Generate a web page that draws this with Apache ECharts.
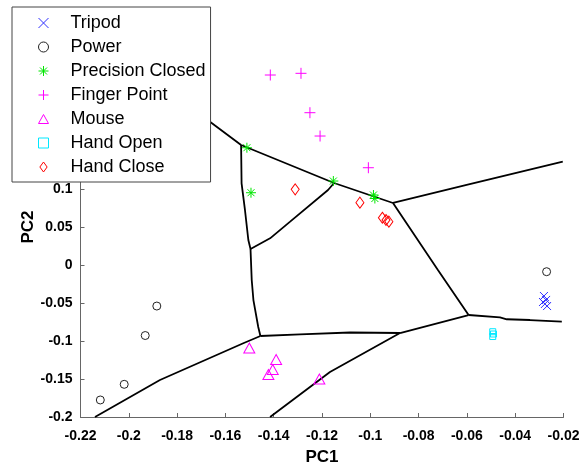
<!DOCTYPE html>
<html>
<head>
<meta charset="utf-8">
<script src="https://cdn.jsdelivr.net/npm/echarts@6/dist/echarts.min.js"></script>
<style>html,body{margin:0;padding:0;background:#fff;overflow:hidden}#c{width:579px;height:466px}</style>
</head>
<body>
<div id="c"></div>
<script>
// ---- data ----
var categories = ['Tripod','Power','Precision Closed','Finger Point','Mouse','Hand Open','Hand Close'];
var tripod = [[-0.0281,-0.0408],[-0.0272,-0.0460],[-0.0277,-0.0513],[-0.0268,-0.0540],[-0.0285,-0.0487]];
var power = [[-0.0270,-0.0088],[-0.1884,-0.0540],[-0.1932,-0.0928],[-0.2019,-0.1570],[-0.2118,-0.1776]];
var precisionClosed = [[-0.1511,0.1543],[-0.1494,0.0951],[-0.1153,0.1105],[-0.0987,0.0921],[-0.0981,0.0875]];
var fingerPoint = [[-0.1414,0.2500],[-0.1287,0.2522],[-0.1250,0.2004],[-0.1208,0.1697],[-0.1008,0.1280]];
var mouse = [[-0.1501,-0.1092],[-0.1390,-0.1243],[-0.1404,-0.1375],[-0.1422,-0.1441],[-0.1211,-0.1500]];
var handOpen = [[-0.0493,-0.0878],[-0.0493,-0.0941],[-0.0490,-0.0908]];
var handClose = [[-0.1311,0.0996],[-0.1043,0.0820],[-0.0950,0.0622],[-0.0923,0.0570],[-0.0935,0.0592]];
// boundary edges (data coordinates)
var edges = [
  [[-0.1705,0.1979],[-0.1664,0.1886],[-0.1535,0.1579]],
  [[-0.1535,0.1579],[-0.1150,0.1079],[-0.0906,0.0816]],
  [[-0.0906,0.0816],[-0.0601,0.1053],[-0.0203,0.1359]],
  [[-0.0906,0.0816],[-0.0720,-0.0066],[-0.0593,-0.0658]],
  [[-0.0593,-0.0658],[-0.0463,-0.0688],[-0.0435,-0.0714],[-0.0339,-0.0724],[-0.0207,-0.0746]],
  [[-0.1150,0.1079],[-0.1175,0.0987],[-0.1332,0.0570],[-0.1415,0.0351],[-0.1496,0.0211]],
  [[-0.1535,0.1579],[-0.1533,0.1075],[-0.1519,0.0724],[-0.1505,0.0329],[-0.1496,0.0211]],
  [[-0.1496,0.0211],[-0.1491,-0.0197],[-0.1484,-0.0461],[-0.1464,-0.0816],[-0.1455,-0.0934]],
  [[-0.1455,-0.0934],[-0.1291,-0.0912],[-0.1084,-0.0888],[-0.0877,-0.0895]],
  [[-0.0877,-0.0895],[-0.0593,-0.0658]],
  [[-0.0877,-0.0895],[-0.1167,-0.1408],[-0.1415,-0.2000]],
  [[-0.1455,-0.0934],[-0.1526,-0.1030],[-0.1871,-0.1513],[-0.2140,-0.2000]]
];
var xTicks = {min:-0.22, max:-0.02, interval:0.02};
var yTicks = {min:-0.2, max:0.3, interval:0.05};

// ---- chart ----
var FONT = '"Liberation Sans", Arial, sans-serif';
var P_X = 'path://M0,0L10,10M10,0L0,10';
var P_PLUS = 'path://M5,0L5,10M0,5L10,5';
var P_STAR = 'path://M5,0L5,10M0,5L10,5M1.5,1.5L8.5,8.5M8.5,1.5L1.5,8.5';
var P_TRI = 'path://M5,0L10,9L0,9Z';
var P_RECT = 'path://M0,0L10,0L10,10L0,10Z';
var P_DIAM = 'path://M4,0L8,5.5L4,11L0,5.5Z';

function sc(name, data, symbol, size, color) {
  return {
    name: name, type: 'scatter', data: data, symbol: symbol, symbolSize: size,
    itemStyle: {color: 'rgba(0,0,0,0)', borderColor: color, borderWidth: 1, opacity: 1},
    z: 3
  };
}
var series = [
  sc(categories[0], tripod, P_X, 8, '#3030ff'),
  sc(categories[1], power, 'circle', 8, '#222'),
  sc(categories[2], precisionClosed, P_STAR, 10, '#00e600'),
  sc(categories[3], fingerPoint, P_PLUS, 11, '#ff00ff'),
  sc(categories[4], mouse, P_TRI, [11,10], '#ff00ff'),
  sc(categories[5], handOpen, P_RECT, 6, '#00e8ff'),
  sc(categories[6], handClose, P_DIAM, [8,11], '#ff0000')
];
edges.forEach(function(e, i){
  series.push({
    name: 'edge' + i, type: 'line', data: e, symbol: 'none', silent: true,
    lineStyle: {color: '#000', width: 1.8}, z: 2, animation: false
  });
});
function fmt(v){ return String(parseFloat(v.toFixed(3))); }

var chart = echarts.init(document.getElementById('c'), null, {renderer: 'canvas'});
chart.setOption({
  animation: false,
  backgroundColor: '#fff',
  grid: {left: 80.5, right: 15.5, top: 37, bottom: 49, containLabel: false, outerBoundsMode: 'none'},
  legend: {
    data: categories, orient: 'vertical', left: 12, top: 7,
    padding: [7, 5, 6, 26], itemGap: 6, itemWidth: 10, itemHeight: 10,
    backgroundColor: '#fff', borderColor: '#444', borderWidth: 1,
    textStyle: {fontFamily: FONT, fontSize: 18, color: '#000', lineHeight: 18, padding: [0, 0, 0, 17]},
    itemStyle: {borderWidth: 1}, selectedMode: false, z: 10
  },
  xAxis: {
    type: 'value', min: xTicks.min, max: xTicks.max, interval: xTicks.interval,
    name: 'PC1', nameLocation: 'middle', nameGap: 32, nameMoveOverlap: false,
    nameTextStyle: {fontFamily: FONT, fontSize: 17, fontWeight: 'bold', color: '#000'},
    axisLine: {show: true, onZero: false, lineStyle: {color: '#666', width: 1}},
    axisTick: {show: true, inside: true, length: 4, lineStyle: {color: '#666'}},
    axisLabel: {formatter: fmt, margin: 12, fontFamily: FONT, fontSize: 14, fontWeight: 'bold', color: '#000'},
    splitLine: {show: false}
  },
  yAxis: {
    type: 'value', min: yTicks.min, max: yTicks.max, interval: yTicks.interval,
    name: 'PC2', nameLocation: 'middle', nameGap: 44, nameMoveOverlap: false,
    nameTextStyle: {fontFamily: FONT, fontSize: 17, fontWeight: 'bold', color: '#000'},
    axisLine: {show: true, onZero: false, lineStyle: {color: '#666', width: 1}},
    axisTick: {show: true, inside: true, length: 4, lineStyle: {color: '#666'}},
    axisLabel: {formatter: fmt, margin: 8, fontFamily: FONT, fontSize: 14, fontWeight: 'bold', color: '#000'},
    splitLine: {show: false}
  },
  series: series
});
</script>
</body>
</html>
